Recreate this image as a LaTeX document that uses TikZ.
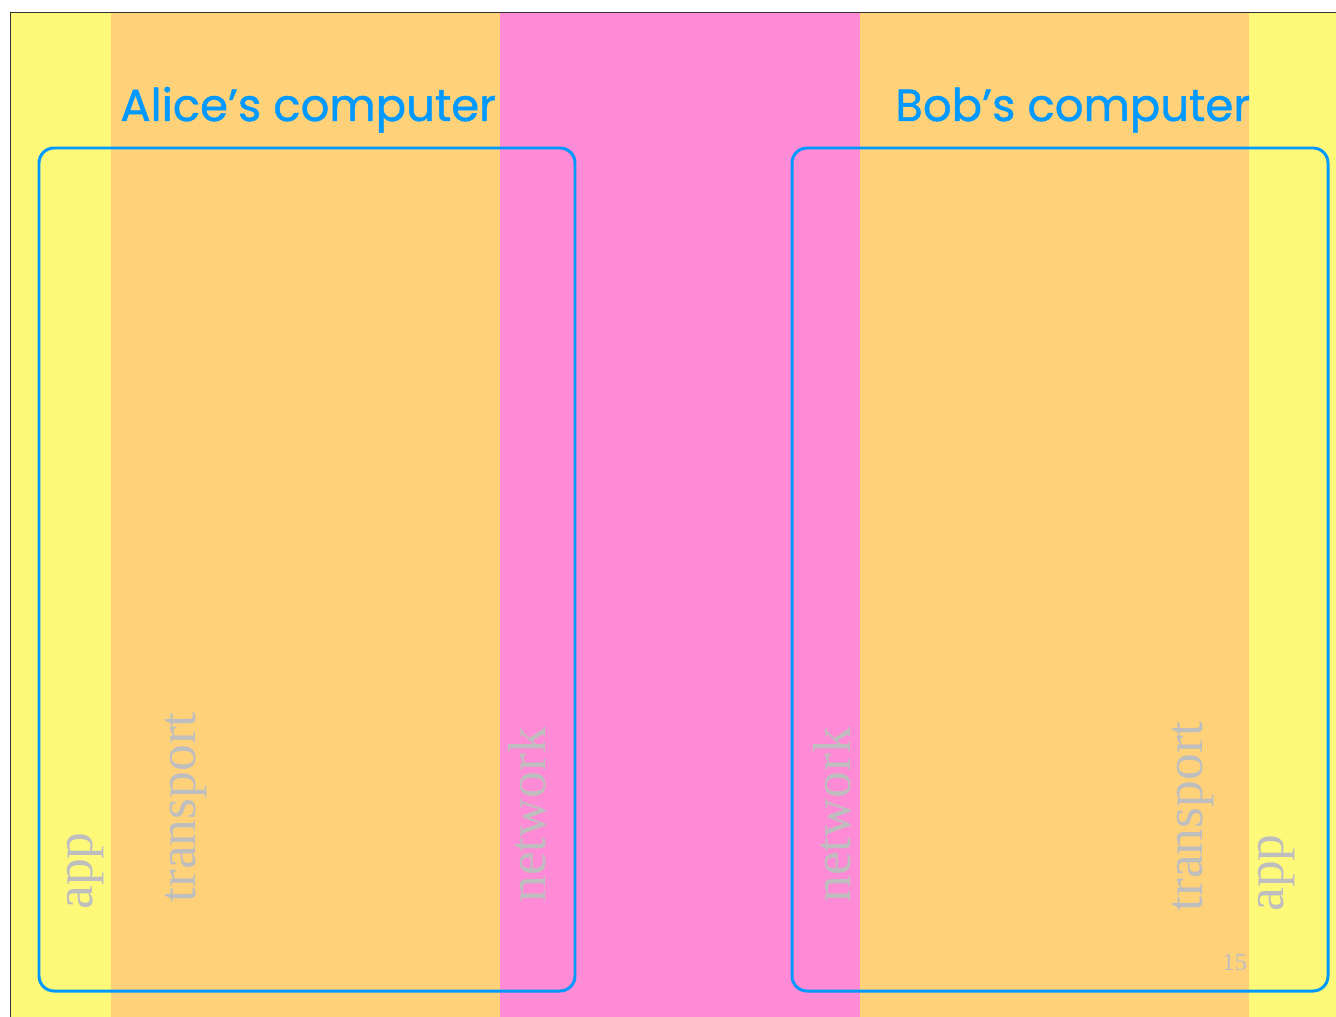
\documentclass[tikz,border=0pt]{standalone}
\usepackage{fontspec}
\setmainfont{Liberation Serif}
\newfontfamily\titlefont[FakeBold=1]{Poppins}
\usetikzlibrary{positioning}

\definecolor{appyellow}{RGB}{255,249,122}
\definecolor{transorange}{RGB}{255,210,122}
\definecolor{netpink}{RGB}{255,138,214}
\definecolor{compblue}{RGB}{0,153,255}
\definecolor{labelgray}{RGB}{190,190,190}

\begin{document}
\begin{tikzpicture}[x=0.02cm, y=-0.02cm,
    layer/.style={text=labelgray, font=\fontsize{30.5}{30.5}\selectfont, rotate=90, anchor=base west, inner sep=0pt},
    computer/.style={draw=compblue, line width=1.7pt, rounded corners=0.3cm},
    title/.style={text=compblue, font=\titlefont\fontsize{25.6}{25.6}\selectfont, anchor=base west, inner sep=0pt}]
    \useasboundingbox (0,0) rectangle (1336,1017);
    \fill[white] (0,0) rectangle (1336,1017);

    % layer bands
    \fill[appyellow] (11,12) rectangle (111,1017);
    \fill[transorange] (111,12) rectangle (500,1017);
    \fill[netpink] (500,12) rectangle (860,1017);
    \fill[transorange] (860,12) rectangle (1249,1017);
    \fill[appyellow] (1249,12) rectangle (1336,1017);
    \draw[black!80, line width=0.6pt] (10.5,1017) -- (10.5,12.5) -- (1336,12.5);

    % layer labels
    \node[layer] (appA) at (92,910) {app};
    \node[layer] (transA) at (195,903) {transport};
    \node[layer] (netA) at (545,903) {network};
    \node[layer] (netB) at (850,903) {network};
    \node[layer] (transB) at (1202,912) {transport};
    \node[layer] (appB) at (1283,912) {app};

    % computers
    \draw[computer] (39,148) rectangle (575,991);
    \draw[computer] (792,148) rectangle (1328,991);
    \node[title] (alice) at (120,121) {Alice’s computer};
    \node[title] (bob) at (895,121) {Bob’s computer};

    \node[text=labelgray, font=\fontsize{14}{14}\selectfont, anchor=base west, inner sep=0pt] (page) at (1222,970) {15};
\end{tikzpicture}
\end{document}
